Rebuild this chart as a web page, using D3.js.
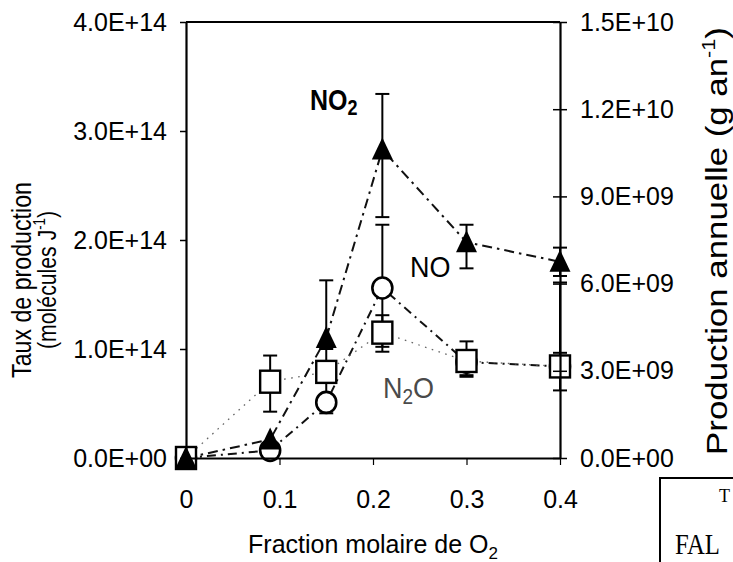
<!DOCTYPE html>
<html>
<head>
<meta charset="utf-8">
<script src="https://cdn.jsdelivr.net/npm/d3@7"></script>
<style>
  html, body { margin: 0; padding: 0; background: #fff; }
  svg { display: block; font-family: "Liberation Sans", Arial, sans-serif; }
</style>
</head>
<body>
<svg id="chart" width="733" height="562"></svg>
<script>
// O2 mole fraction of each experiment
const xFraction = [0, 0.09, 0.15, 0.21, 0.30, 0.40];

// NO2 production rate (molecules per joule), filled triangles
const no2Rate = [0, 0.17e14, 1.10e14, 2.83e14, 1.98e14, 1.80e14];
const no2Low  = [null, null, null, 2.21e14, 1.74e14, 1.67e14];
const no2High = [null, null, 1.63e14, 3.34e14, 2.14e14, 1.93e14];

// NO production rate, open circles
const noRate = [0, 0.07e14, 0.51e14, 1.56e14, 0.88e14, 0.84e14];
const noLow  = [null, null, 0.41e14, 1.02e14, 0.745e14, null];
const noHigh = [null, null, null, 2.14e14, null, 1.61e14];

// N2O production rate, open squares
const n2oRate = [0, 0.70e14, 0.79e14, 1.15e14, 0.89e14, 0.84e14];
const n2oLow  = [null, 0.425e14, 0.47e14, 0.975e14, 0.76e14, 0.62e14];
const n2oHigh = [null, 0.94e14, 1.00e14, 1.31e14, 1.07e14, 0.965e14];

// axis ticks
const xTicks = [0, 0.1, 0.2, 0.3, 0.4];
const xTickLabels = ["0", "0.1", "0.2", "0.3", "0.4"];
const rateTicks = [0, 1e14, 2e14, 3e14, 4e14];
const annualTicks = [0, 3e9, 6e9, 9e9, 1.2e10, 1.5e10];

const svg = d3.select("#chart");
const plotLeft = 186, plotRight = 560, plotTop = 22, plotBottom = 458;

const x = d3.scaleLinear().domain([0, 0.4]).range([plotLeft, plotRight]);
const y = d3.scaleLinear().domain([0, 4e14]).range([plotBottom, plotTop]);
const y2 = d3.scaleLinear().domain([0, 1.5e10]).range([plotBottom, plotTop]);

// scientific labels in the form 4.0E+14
function sci(v) {
  if (v === 0) return "0.0E+00";
  const e = Math.floor(Math.log10(Math.abs(v)) + 1e-9);
  const m = v / Math.pow(10, e);
  const es = (e < 0 ? "-" : "+") + String(Math.abs(e)).padStart(2, "0");
  return m.toFixed(1) + "E" + es;
}

const series = [
  { key: "no", vals: noRate, lo: noLow, hi: noHigh, dash: "9,5,2,5", width: 2, color: "#111" },
  { key: "n2o", vals: n2oRate, lo: n2oLow, hi: n2oHigh, dash: "1.6,5.5", width: 1.3, color: "#666" },
  { key: "no2", vals: no2Rate, lo: no2Low, hi: no2High, dash: "10,5,2.5,5", width: 2, color: "#111" }
];

const pts = s => xFraction.map((xv, i) => ({ x: xv, y: s.vals[i], lo: s.lo[i], hi: s.hi[i] }));

// connecting lines
const line = d3.line().x(d => x(d.x)).y(d => y(d.y));
const gLines = svg.append("g");
series.forEach(s => {
  gLines.append("path")
    .datum(pts(s))
    .attr("d", line)
    .attr("fill", "none")
    .attr("stroke", s.color)
    .attr("stroke-width", s.width)
    .attr("stroke-dasharray", s.dash);
});

// error bars
const gErr = svg.append("g").attr("stroke", "#000").attr("stroke-width", 2);
series.forEach(s => {
  pts(s).forEach(p => {
    const cx = x(p.x);
    const ends = [p.lo, p.hi].filter(v => v !== null);
    ends.forEach(v => {
      gErr.append("line").attr("x1", cx).attr("x2", cx)
        .attr("y1", y(p.y)).attr("y2", y(v));
      gErr.append("line").attr("x1", cx - 7).attr("x2", cx + 7)
        .attr("y1", y(v)).attr("y2", y(v));
    });
  });
});

// markers: circles, then squares, then triangles on top
const gMark = svg.append("g");
gMark.selectAll("ellipse").data(pts(series[0])).join("ellipse")
  .attr("cx", d => x(d.x)).attr("cy", d => y(d.y))
  .attr("rx", 10).attr("ry", 10.5)
  .attr("fill", "#fff").attr("stroke", "#000").attr("stroke-width", 2.6);

gMark.selectAll("rect").data(pts(series[1])).join("rect")
  .attr("x", d => x(d.x) - 10).attr("y", d => y(d.y) - 11)
  .attr("width", 20).attr("height", 22)
  .attr("fill", "#fff").attr("stroke", "#000").attr("stroke-width", 2.4);

gMark.selectAll("path.tri").data(pts(series[2])).join("path")
  .attr("class", "tri")
  .attr("d", d => {
    const cx = x(d.x), cy = y(d.y);
    return `M${cx},${cy - 12}L${cx + 10.5},${cy + 10}L${cx - 10.5},${cy + 10}Z`;
  })
  .attr("fill", "#000");

// axes
const fontSize = "25px";
const axL = svg.append("g").attr("transform", `translate(${plotLeft},0)`)
  .call(d3.axisLeft(y).tickValues(rateTicks).tickFormat(sci).tickSize(6).tickPadding(13).tickSizeOuter(0));
const axR = svg.append("g").attr("transform", `translate(${plotRight},0)`)
  .call(d3.axisRight(y2).tickValues(annualTicks).tickFormat(sci).tickSize(7).tickPadding(13).tickSizeOuter(0));
axR.selectAll(".tick line").attr("x1", -7).attr("x2", 7);
const axB = svg.append("g").attr("transform", `translate(0,${plotBottom})`)
  .call(d3.axisBottom(x).tickValues(xTicks).tickFormat((d, i) => xTickLabels[i]).tickSize(7).tickPadding(25).tickSizeOuter(0));
axB.selectAll(".tick line").attr("stroke-width", 1.2);

[axL, axR, axB].forEach(g => {
  g.selectAll("text").attr("font-size", fontSize).attr("fill", "#000")
    .attr("font-family", "'Liberation Sans', Arial, sans-serif");
  g.selectAll(".tick line").attr("stroke", "#000");
  g.select(".domain").attr("stroke", "#000").attr("stroke-width", 2.2);
});
axL.selectAll(".tick line").attr("stroke-width", 1.5);
axR.selectAll(".tick line").attr("stroke-width", 1.5);

// top border of the frame
svg.append("line").attr("x1", plotLeft).attr("x2", plotRight).attr("y1", plotTop).attr("y2", plotTop)
  .attr("stroke", "#000").attr("stroke-width", 2);

// series labels
const lab = svg.append("g").attr("font-family", "'Liberation Sans', Arial, sans-serif");
const tNO2 = lab.append("text").attr("transform", "translate(310,110) scale(1,1.2)")
  .attr("font-size", 25).attr("font-weight", "bold");
tNO2.append("tspan").text("NO");
tNO2.append("tspan").attr("font-size", 18).attr("dy", 4).text("2");

lab.append("text").attr("transform", "translate(410,277) scale(1,1.12)")
  .attr("font-size", 27).text("NO");

const tN2O = lab.append("text").attr("transform", "translate(383,398) scale(1,1.12)")
  .attr("font-size", 27).attr("fill", "#4a4a4a");
tN2O.append("tspan").text("N");
tN2O.append("tspan").attr("font-size", 19).attr("dy", 5).text("2");
tN2O.append("tspan").attr("dy", -5).text("O");

// fit a text element to a given length along its baseline
function fitLength(sel, len) {
  const natural = sel.node().getComputedTextLength();
  sel.attr("transform", `scale(${len / natural},1)`);
}

// axis titles
const titleL = svg.append("g").attr("transform", "translate(0,280) rotate(-90)")
  .attr("text-anchor", "middle");
const t1 = titleL.append("text").attr("x", 0).attr("y", 31).attr("font-size", 27).text("Taux de production");
fitLength(t1, 196);
const t2 = titleL.append("text").attr("x", 0).attr("y", 56).attr("font-size", 26);
t2.append("tspan").text("(molécules J");
t2.append("tspan").attr("font-size", 16).attr("dy", -11).text("-1");
t2.append("tspan").attr("dy", 11).text(")");
fitLength(t2, 138);

// right title, stretched along its length to span the axis height
const titleRG = svg.append("g").attr("transform", "translate(727,241) rotate(-90)");
const titleR = titleRG.append("text").attr("font-size", 29).attr("text-anchor", "middle");
titleR.append("tspan").text("Production annuelle (g an");
titleR.append("tspan").attr("font-size", 18).attr("dy", -12).text("-1");
titleR.append("tspan").attr("dy", 12).text(")");
fitLength(titleR, 428);

const titleB = svg.append("text").attr("x", 373).attr("y", 553)
  .attr("font-size", 25).attr("text-anchor", "middle");
titleB.append("tspan").text("Fraction molaire de O");
titleB.append("tspan").attr("font-size", 17).attr("dy", 6).text("2");

// neighbouring boxed caption at the lower right corner
const box = svg.append("g");
box.append("rect").attr("x", 660).attr("y", 478).attr("width", 120).attr("height", 120)
  .attr("fill", "none").attr("stroke", "#000").attr("stroke-width", 2);
box.append("text").attr("transform", "translate(675,554) scale(0.95,1.12)")
  .attr("font-family", "'Liberation Serif', 'DejaVu Serif', serif")
  .attr("font-size", 26)
  .text("FAL");
box.append("text").attr("x", 719).attr("y", 502)
  .attr("font-family", "'Liberation Serif', 'DejaVu Serif', serif")
  .attr("font-size", 18).text("T");
</script>
</body>
</html>
